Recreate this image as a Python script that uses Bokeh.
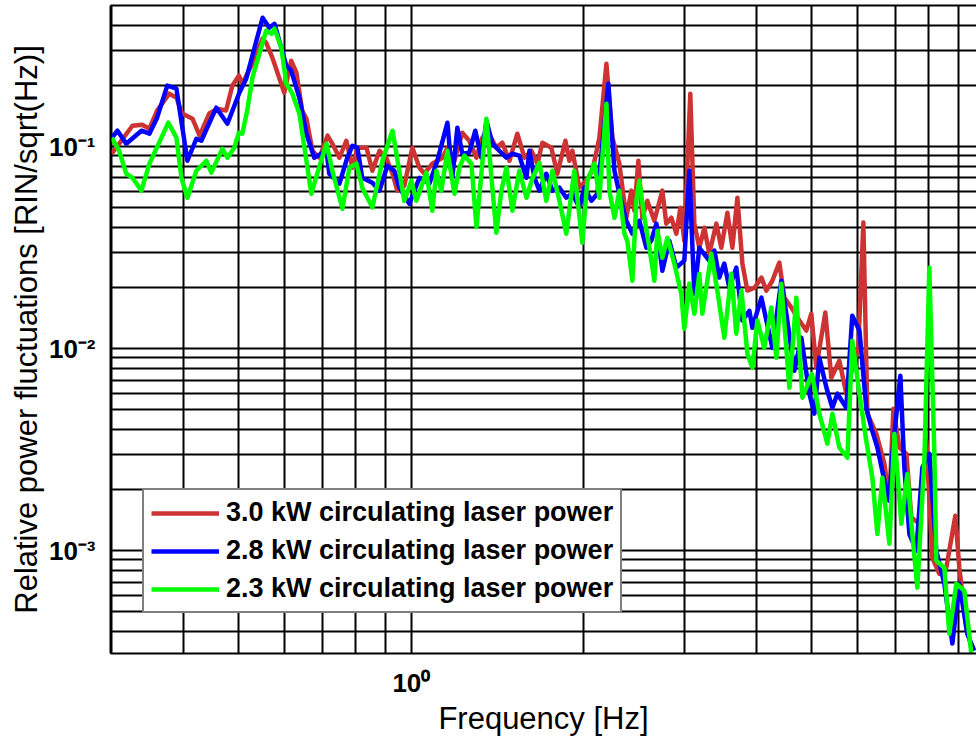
from bokeh.plotting import figure
from bokeh.models import FixedTicker, LogAxis
from bokeh.embed import file_html
from bokeh.resources import INLINE

# ---- data ----
freq_30 = [0.300,0.326,0.339,0.349,0.360,0.378,0.389,0.398,0.415,0.427,
           0.444,0.458,0.475,0.487,0.500,0.507,0.528,0.550,0.558,0.572,
           0.600,0.617,0.630,0.645,0.656,0.672,0.691,0.714,0.728,0.749,
           0.770,0.789,0.805,0.835,0.855,0.880,0.904,0.927,0.945,0.972,
           1.004,1.033,1.054,1.088,1.133,1.156,1.189,1.227,1.262,1.299,
           1.330,1.357,1.407,1.441,1.483,1.531,1.575,1.620,1.660,1.693,
           1.755,1.798,1.857,1.887,1.910,1.964,2.020,2.070,2.129,2.190,
           2.243,2.307,2.372,2.421,2.450,2.490,2.530,2.581,2.655,2.742,
           2.786,2.843,2.901,2.948,2.995,3.068,3.118,3.181,3.246,3.311,
           3.406,3.475,3.561,3.633,3.707,3.782,3.859,3.970,4.083,4.165,
           4.266,4.387,4.477,4.605,4.754,4.890,4.989,5.090,5.278,5.407,
           5.584,5.743,5.882,6.026,6.150,6.250,6.480,6.692,6.828,6.939,
           7.108,7.310,7.458,7.702,7.921,8.115,8.346,8.584,8.900,9.044,
           9.302,9.530]
rin_30 = [0.0923,0.127,0.1285,0.1228,0.151,0.183,0.175,0.146,0.1376,0.1134,
          0.146,0.154,0.151,0.2005,0.2247,0.205,0.2576,0.3425,0.327,0.276,
          0.185,0.2665,0.2324,0.151,0.1376,0.0955,0.0882,0.1134,0.1035,0.0882,
          0.107,0.0787,0.0989,0.0989,0.076,0.0955,0.0882,0.0735,0.0606,0.0641,
          0.0989,0.0787,0.0735,0.0824,0.0882,0.0989,0.0852,0.1173,0.107,0.0882,
          0.1108,0.120,0.0989,0.1047,0.0852,0.116,0.0882,0.0955,0.0824,0.1047,
          0.0989,0.0735,0.107,0.0852,0.0955,0.0627,0.0679,0.076,0.1108,0.2576,
          0.1108,0.0824,0.0445,0.0606,0.0482,0.0852,0.0445,0.054,0.043,0.0606,
          0.0416,0.0445,0.0371,0.0499,0.0342,0.183,0.0416,0.0316,0.0397,0.0295,
          0.0416,0.0316,0.0471,0.0316,0.0559,0.0264,0.0194,0.0200,0.0225,0.0194,
          0.0217,0.0267,0.0179,0.0160,0.0138,0.0123,0.0149,0.00805,0.0151,0.00719,
          0.00872,0.00599,0.00805,0.0101,0.0421,0.00477,0.00379,0.0027,0.00177,0.00505,
          0.00324,0.00302,0.00146,0.00136,0.0035,0.000923,0.000769,0.000824,0.00149,0.000824,
          0.000416,0.00032]

freq_28 = [0.300,0.307,0.318,0.338,0.349,0.360,0.375,0.389,0.4066,0.4215,
           0.430,0.4567,0.4775,0.501,0.515,0.550,0.565,0.577,0.605,0.617,
           0.6375,0.656,0.677,0.711,0.719,0.749,0.773,0.789,0.805,0.821,
           0.855,0.880,0.908,0.934,0.953,0.992,1.033,1.075,1.110,1.156,
           1.179,1.203,1.227,1.262,1.293,1.325,1.352,1.385,1.424,1.465,
           1.501,1.543,1.588,1.607,1.640,1.673,1.720,1.763,1.813,1.864,
           1.910,1.964,2.004,2.062,2.112,2.155,2.207,2.262,2.307,2.372,
           2.431,2.500,2.571,2.623,2.677,2.742,2.820,2.901,2.995,3.056,
           3.118,3.181,3.311,3.380,3.447,3.517,3.589,3.691,3.782,3.890,
           3.937,4.083,4.165,4.266,4.422,4.513,4.660,4.793,4.950,5.051,
           5.153,5.302,5.430,5.540,5.743,5.882,6.053,6.223,6.350,6.506,
           6.692,6.828,6.910,7.136,7.251,7.399,7.609,7.795,8.017,8.245,
           8.515,8.795,9.044,9.339,9.605]
rin_28 = [0.1108,0.120,0.1035,0.120,0.116,0.1392,0.2005,0.194,0.0852,0.1095,
          0.107,0.156,0.130,0.185,0.217,0.435,0.388,0.406,0.252,0.238,
          0.175,0.116,0.0882,0.0955,0.0735,0.0656,0.0882,0.101,0.0989,0.0702,
          0.0663,0.0606,0.0805,0.076,0.0627,0.0522,0.0702,0.0656,0.0852,0.1315,
          0.0702,0.1242,0.0923,0.0934,0.120,0.0882,0.1345,0.1035,0.0955,0.0882,
          0.0923,0.0903,0.0702,0.0955,0.0702,0.0606,0.0735,0.0606,0.0627,0.0559,
          0.0585,0.050,0.0627,0.054,0.0585,0.1035,0.205,0.076,0.0585,0.043,
          0.0371,0.043,0.0316,0.0343,0.0416,0.0243,0.0342,0.0252,0.0273,0.076,
          0.0187,0.0316,0.0273,0.0306,0.0225,0.0264,0.0200,0.0252,0.0138,0.0154,
          0.0127,0.0179,0.0138,0.0101,0.0217,0.0149,0.00778,0.01134,0.00599,0.00477,
          0.00902,0.00641,0.0051,0.00599,0.0051,0.01457,0.0123,0.0051,0.00406,0.00324,
          0.00222,0.00177,0.00302,0.00735,0.00258,0.00121,0.0010,0.00258,0.00302,0.0010,
          0.000687,0.000347,0.000687,0.000388,0.00032]

freq_23 = [0.300,0.309,0.318,0.326,0.338,0.349,0.3766,0.389,0.397,0.4066,
           0.4215,0.4387,0.4477,0.468,0.4775,0.491,0.500,0.507,0.517,0.528,
           0.543,0.558,0.570,0.577,0.593,0.605,0.620,0.6375,0.656,0.669,
           0.685,0.711,0.728,0.758,0.7795,0.802,0.821,0.855,0.890,0.927,
           0.972,1.000,1.020,1.062,1.088,1.106,1.128,1.156,1.189,1.213,
           1.238,1.273,1.299,1.352,1.407,1.436,1.465,1.501,1.543,1.588,
           1.626,1.673,1.720,1.763,1.813,1.864,1.925,1.988,2.029,2.087,
           2.129,2.190,2.216,2.262,2.307,2.354,2.382,2.431,2.470,2.500,
           2.551,2.603,2.655,2.688,2.742,2.798,2.877,2.959,2.995,3.056,
           3.118,3.181,3.220,3.339,3.420,3.517,3.618,3.691,3.767,3.859,
           3.937,4.017,4.130,4.249,4.335,4.422,4.568,4.698,4.813,5.000,
           5.153,5.321,5.430,5.584,5.768,5.882,6.053,6.223,6.376,6.506,
           6.637,6.828,6.966,7.164,7.339,7.487,7.640,7.858,8.017,8.180,
           8.245,8.515,8.689,8.937,9.227,9.490]
rin_23 = [0.1108,0.0955,0.0735,0.0702,0.0606,0.0824,0.1315,0.1108,0.0702,0.0559,
          0.076,0.0852,0.0744,0.0977,0.0882,0.0989,0.1173,0.116,0.151,0.2196,
          0.2886,0.3753,0.3626,0.384,0.309,0.205,0.183,0.146,0.0852,0.0585,
          0.0735,0.1035,0.076,0.0493,0.0787,0.0824,0.0627,0.050,0.0852,0.120,
          0.054,0.0679,0.054,0.0744,0.0482,0.076,0.0606,0.0955,0.0585,0.0787,
          0.0903,0.0824,0.040,0.1376,0.0375,0.0606,0.0787,0.0482,0.076,0.0559,
          0.0694,0.0833,0.054,0.076,0.054,0.0371,0.076,0.0335,0.0679,0.0824,
          0.0559,0.1633,0.0606,0.0445,0.0606,0.0371,0.0342,0.0217,0.054,0.0679,
          0.0445,0.0316,0.0217,0.0384,0.0282,0.0354,0.0264,0.0187,0.01256,0.0210,
          0.0149,0.0235,0.0149,0.0295,0.0194,0.01134,0.0235,0.01187,0.0194,0.00945,
          0.00805,0.0138,0.0101,0.0160,0.00902,0.0210,0.00641,0.0179,0.00572,0.00752,
          0.00477,0.00339,0.00477,0.00324,0.00289,0.01096,0.00599,0.0035,0.0023,0.00121,
          0.0023,0.001084,0.00379,0.00136,0.0024,0.00121,0.000656,0.00279,0.0252,0.00302,
          0.000892,0.000824,0.000388,0.000687,0.000634,0.00031]

series_labels = ["3.0 kW circulating laser power",
                 "2.8 kW circulating laser power",
                 "2.3 kW circulating laser power"]
series_colors = ["#CD3333", "#0000FF", "#00FF00"]

x_tick_values = [1.0]
x_tick_labels = ["10\u2070"]
y_tick_values = [0.001, 0.01, 0.1]
y_tick_labels = ["10\u207b\u00b3", "10\u207b\u00b2", "10\u207b\u00b9"]

x_label = "Frequency [Hz]"
y_label = "Relative power fluctuations [RIN/sqrt(Hz)]"

FONT = "Liberation Sans"

# ---- figure ----
p = figure(width=976, height=738, x_axis_type="log", y_axis_type="log",
           x_range=(0.2985, 9.69), y_range=(3.1e-4, 0.5),
           output_backend="svg", toolbar_location=None,
           min_border_left=110, min_border_right=0,
           min_border_top=5, min_border_bottom=85)
p.outline_line_color = None
p.background_fill_color = "white"
p.border_fill_color = "white"

# grid lines at every 1..9 x 10^k
x_grid = [m * 10.0 ** k for k in (-1, 0) for m in range(1, 10)]
x_grid = [v for v in x_grid if 0.2985 <= v <= 9.69]
y_grid = [m * 10.0 ** k for k in (-4, -3, -2, -1) for m in range(1, 10)]
y_grid = [v for v in y_grid if 3.1e-4 <= v <= 0.5]
p.xgrid.ticker = FixedTicker(ticks=x_grid)
p.ygrid.ticker = FixedTicker(ticks=y_grid)
for g in (p.xgrid, p.ygrid):
    g.grid_line_color = "black"
    g.grid_line_width = 2
    g.grid_line_alpha = 1.0

# axes
p.xaxis.ticker = FixedTicker(ticks=x_tick_values)
p.xaxis.major_label_overrides = dict(zip(x_tick_values, x_tick_labels))
p.yaxis.ticker = FixedTicker(ticks=y_tick_values)
p.yaxis.major_label_overrides = dict(zip(y_tick_values, y_tick_labels))
for ax in (p.xaxis, p.yaxis):
    ax.axis_line_color = "black"
    ax.axis_line_width = 2
    ax.major_tick_line_color = None
    ax.minor_tick_line_color = None
    ax.major_label_text_font = FONT
    ax.major_label_text_font_style = "bold"
    ax.major_label_text_font_size = "26px"
    ax.major_label_text_color = "black"
    ax.axis_label_text_font = FONT
    ax.axis_label_text_font_style = "normal"
    ax.axis_label_text_font_size = "31px"
    ax.axis_label_text_color = "black"
p.xaxis.axis_label = x_label
p.yaxis.axis_label = y_label
p.xaxis.major_label_standoff = 8
p.yaxis.major_label_standoff = 9
p.xaxis.axis_label_standoff = 0
p.yaxis.axis_label_standoff = 2

top_axis = LogAxis(ticker=FixedTicker(ticks=[]), axis_line_color="black",
                   axis_line_width=2, major_tick_line_color=None,
                   minor_tick_line_color=None, major_label_text_font_size="0px")
p.add_layout(top_axis, "above")

# ---- lines ----
for fx, fy, lab, col in zip((freq_30, freq_28, freq_23),
                            (rin_30, rin_28, rin_23),
                            series_labels, series_colors):
    p.line(fx, fy, line_color=col, line_width=4.5, line_join="round",
           legend_label=lab)

# ---- legend ----
lg = p.legend[0]
lg.location = (32, 40)
lg.border_line_color = "black"
lg.border_line_width = 2
lg.background_fill_color = "white"
lg.background_fill_alpha = 1.0
lg.label_text_font = FONT
lg.label_text_font_style = "bold"
lg.label_text_font_size = "27px"
lg.label_text_color = "black"
lg.glyph_width = 68
lg.glyph_height = 30
lg.label_standoff = 7
lg.padding = 7
lg.spacing = 7
lg.margin = 0

open("out.html", "w").write(file_html(p, INLINE))
